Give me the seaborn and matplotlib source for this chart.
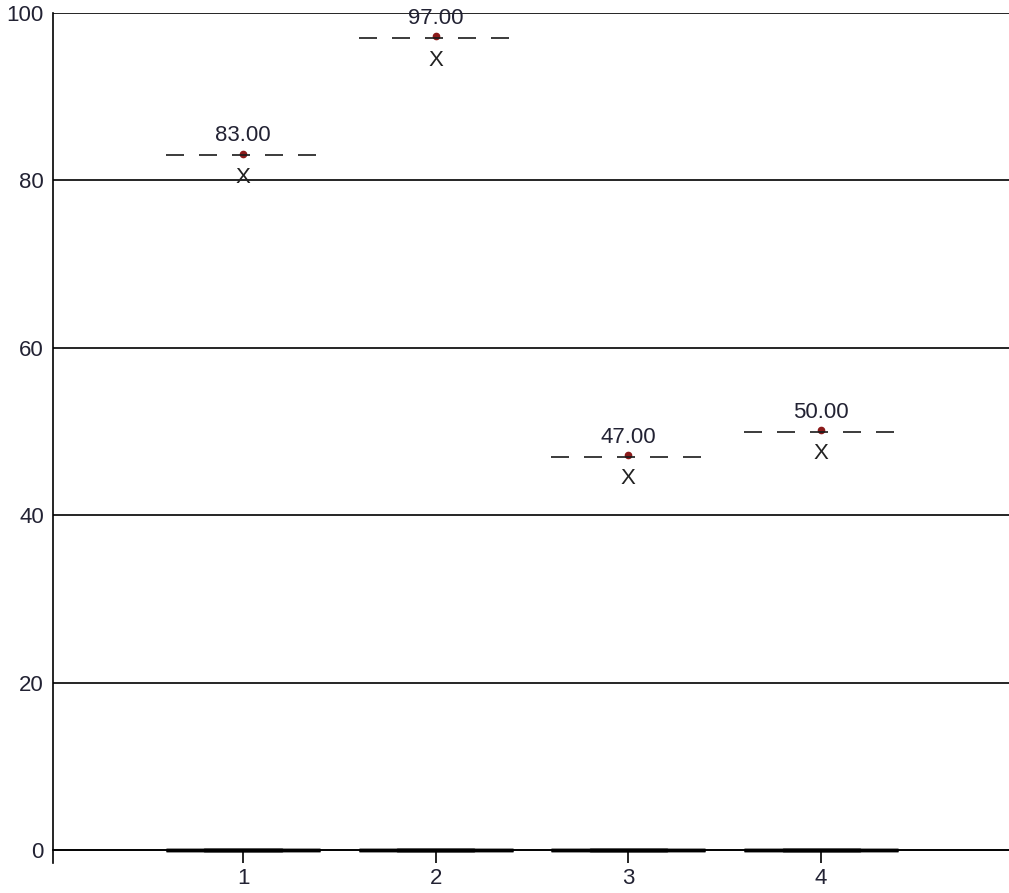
import numpy as np
import pandas as pd
import seaborn as sns
import matplotlib.pyplot as plt

sns.set_style("white")
plt.rcParams["font.family"] = ["Liberation Sans", "DejaVu Sans"]

categories = [1, 2, 3, 4]
means = [83.0, 97.0, 47.0, 50.0]
# every group's box collapses onto zero
box_values = [0.0, 0.0, 0.0, 0.0]
y_ticks = [0, 20, 40, 60, 80, 100]

W, H = 1009, 893
fig = plt.figure(figsize=(W / 100, H / 100), dpi=100)
ax = fig.add_axes([53 / W, (H - 863) / H, (1009 - 53) / W, (863 - 13) / H])

df = pd.DataFrame({
    "group": np.repeat(categories, 3),
    "value": np.repeat(box_values, 3),
})
sns.boxplot(data=df, x="group", y="value", native_scale=True, width=0.8,
            color="white", linecolor="black", linewidth=2.5,
            showfliers=False, ax=ax)

for x, m in zip(categories, means):
    ax.hlines(m, x - 0.4, x + 0.4, colors="#1a1a1a", linewidth=1.2,
              linestyles=(0, (10.8, 9)), zorder=4)
    ax.plot(x, m + 0.2, "o", color="#8b1a1a", markersize=4.5, zorder=3)
    ax.annotate(f"{m:.2f}", (x, m), xytext=(0, 14), textcoords="offset points",
                ha="center", va="center", fontsize=16, color="#222233")
    ax.annotate("X", (x, m), xytext=(0, -16), textcoords="offset points",
                ha="center", va="center", fontsize=16, color="#222222")

ax.set_xlim(0.014, 4.975)
ax.set_ylim(-1.55, 100)
ax.set_yticks(y_ticks)
ax.set_xticks(categories)
ax.set_xticklabels([str(c) for c in categories])
ax.grid(axis="y", color="black", linewidth=1.2)
ax.set_axisbelow(True)

for side in ["top", "right"]:
    ax.spines[side].set_visible(False)
ax.spines["left"].set_color("black")
ax.spines["left"].set_linewidth(1.2)
ax.spines["bottom"].set_position(("data", 0))
ax.spines["bottom"].set_color("black")
ax.spines["bottom"].set_linewidth(1.2)

ax.tick_params(axis="y", length=0, pad=6.5, labelsize=16, labelcolor="#222233")
ax.tick_params(axis="x", direction="out", length=9, width=1.2, color="black",
               pad=4, labelsize=16, labelcolor="#222233", bottom=True)
ax.set_xlabel("")
ax.set_ylabel("")

fig.savefig("out.png", dpi=100)
